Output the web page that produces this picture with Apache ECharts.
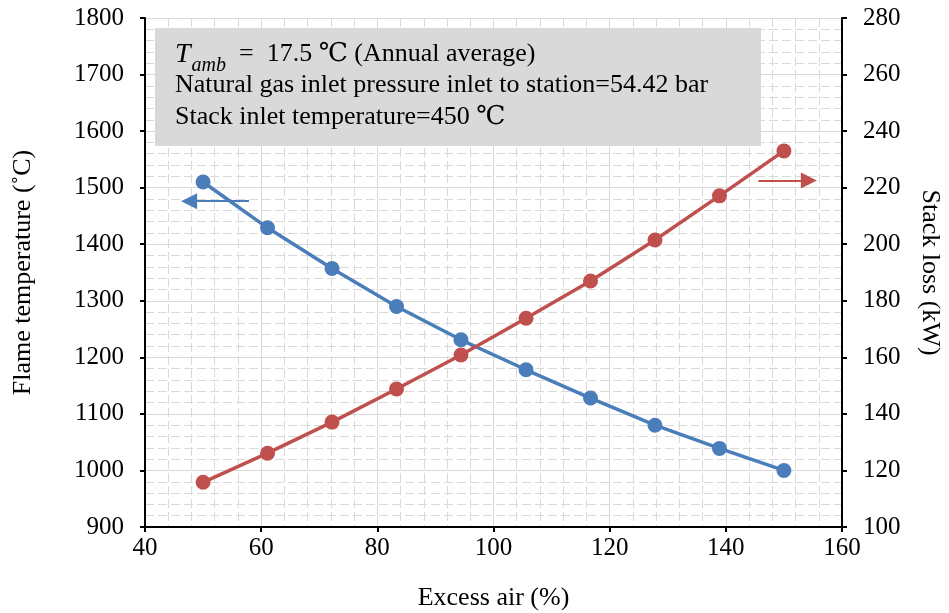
<!DOCTYPE html>
<html>
<head>
<meta charset="utf-8">
<script src="https://cdn.jsdelivr.net/npm/echarts@6/dist/echarts.min.js"></script>
<style>
  html, body { margin: 0; padding: 0; background: #fff; }
  #chart { width: 949px; height: 613px; }
</style>
</head>
<body>
<div id="chart"></div>
<script>
// excess air (%) at each point
const excessAir = [50, 61.1, 72.2, 83.3, 94.4, 105.6, 116.7, 127.8, 138.9, 150];
// flame temperature (°C), left axis
const flameTemp = [1510, 1429, 1357, 1290, 1231, 1178, 1128, 1080, 1039, 1000];
// stack loss (kW), right axis
const stackLoss = [115.8, 126.1, 137.1, 148.8, 160.8, 173.8, 187, 201.5, 217.1, 233];

const blue = '#4a7ebb';
const red = '#c0504d';
const serif = '"Liberation Serif", "Times New Roman", "DejaVu Serif", serif';
const gridColor = '#d9d9d9';

let chart = echarts.init(document.getElementById('chart'));

let option = {
  animation: false,
  textStyle: { fontFamily: serif, color: '#000' },
  grid: { left: 145, right: 107, top: 18, bottom: 86, outerBoundsMode: 'none' },
  xAxis: {
    type: 'value',
    min: 40,
    max: 160,
    interval: 20,
    name: 'Excess air (%)',
    nameLocation: 'middle',
    nameGap: 58,
    nameTextStyle: { fontFamily: serif, fontSize: 26, color: '#000' },
    axisLine: { lineStyle: { color: '#000', width: 2 } },
    axisTick: { show: true, length: 5, lineStyle: { color: '#000', width: 2 } },
    axisLabel: { fontFamily: serif, fontSize: 25, color: '#000', margin: 9, formatter: v => String(v) },
    splitLine: { show: true, lineStyle: { color: gridColor, width: 1 } },
    minorTick: { show: false, splitNumber: 5 },
    minorSplitLine: { show: true, lineStyle: { color: gridColor, width: 1, type: [9, 4] } }
  },
  yAxis: [{
    type: 'value',
    min: 900,
    max: 1800,
    interval: 100,
    name: 'Flame temperature (˚C)',
    nameLocation: 'middle',
    nameRotate: 90,
    nameGap: 109,
    nameTextStyle: { fontFamily: serif, fontSize: 26, color: '#000' },
    axisLine: { show: true, lineStyle: { color: '#000', width: 2 } },
    axisTick: { show: true, length: 5, lineStyle: { color: '#000', width: 2 } },
    axisLabel: { fontFamily: serif, fontSize: 25, color: '#000', margin: 21, formatter: v => String(v) },
    splitLine: { show: true, lineStyle: { color: gridColor, width: 1 } },
    minorTick: { show: false, splitNumber: 5 },
    minorSplitLine: { show: true, lineStyle: { color: gridColor, width: 1, type: [9, 4] } }
  }, {
    type: 'value',
    min: 100,
    max: 280,
    interval: 20,
    position: 'right',
    name: 'Stack loss (kW)',
    nameLocation: 'middle',
    nameRotate: -90,
    nameGap: 75,
    nameTextStyle: { fontFamily: serif, fontSize: 26, color: '#000' },
    axisLine: { show: true, lineStyle: { color: '#000', width: 2 } },
    axisTick: { show: true, length: 5, lineStyle: { color: '#000', width: 2 } },
    axisLabel: { fontFamily: serif, fontSize: 25, color: '#000', margin: 21, formatter: v => String(v) },
    splitLine: { show: false }
  }],
  graphic: [{
    type: 'rect',
    z: 1,
    shape: { x: 155, y: 28, width: 606, height: 118 },
    style: { fill: '#d9d9d9' }
  }, {
    type: 'text',
    z: 2,
    x: 175,
    y: 41,
    style: {
      text: '{i|T}{sub|amb}{n|  =  17.5 ℃ }{n|(Annual average)}',
      rich: {
        i: { fontFamily: serif, fontStyle: 'italic', fontSize: 28, lineHeight: 30, verticalAlign: 'top', fill: '#000' },
        sub: { fontFamily: serif, fontStyle: 'italic', fontSize: 20, lineHeight: 20, padding: [15, 0, 0, 1], verticalAlign: 'top', fill: '#000' },
        n: { fontFamily: serif, fontSize: 26, lineHeight: 30, verticalAlign: 'top', fill: '#000' }
      }
    }
  }, {
    type: 'text',
    z: 2,
    x: 175,
    y: 85,
    style: {
      text: 'Natural gas inlet pressure inlet to station=54.42 bar',
      font: '26px ' + serif,
      fill: '#000',
      verticalAlign: 'middle'
    }
  }, {
    type: 'text',
    z: 2,
    x: 175,
    y: 117,
    style: {
      text: 'Stack inlet temperature=450 ℃',
      font: '26px ' + serif,
      fill: '#000',
      verticalAlign: 'middle'
    }
  }],
  series: [{
    name: 'Flame temperature',
    type: 'line',
    yAxisIndex: 0,
    data: excessAir.map((x, i) => [x, flameTemp[i]]),
    symbol: 'circle',
    symbolSize: 15,
    itemStyle: { color: blue },
    lineStyle: { color: blue, width: 3.5 },
    markLine: {
      silent: true,
      symbol: ['none', 'triangle'],
      symbolSize: 16,
      label: { show: false },
      lineStyle: { color: blue, width: 2, type: 'solid' },
      data: [[{ coord: [57.9, 1476] }, { coord: [47.6, 1476] }]]
    }
  }, {
    name: 'Stack loss',
    type: 'line',
    yAxisIndex: 1,
    data: excessAir.map((x, i) => [x, stackLoss[i]]),
    symbol: 'circle',
    symbolSize: 15,
    itemStyle: { color: red },
    lineStyle: { color: red, width: 3.5 },
    markLine: {
      silent: true,
      symbol: ['none', 'triangle'],
      symbolSize: 16,
      label: { show: false },
      lineStyle: { color: red, width: 2, type: 'solid' },
      data: [[{ coord: [145.6, 222.5] }, { coord: [154.3, 222.5] }]]
    }
  }]
};

chart.setOption(option);
</script>
</body>
</html>
